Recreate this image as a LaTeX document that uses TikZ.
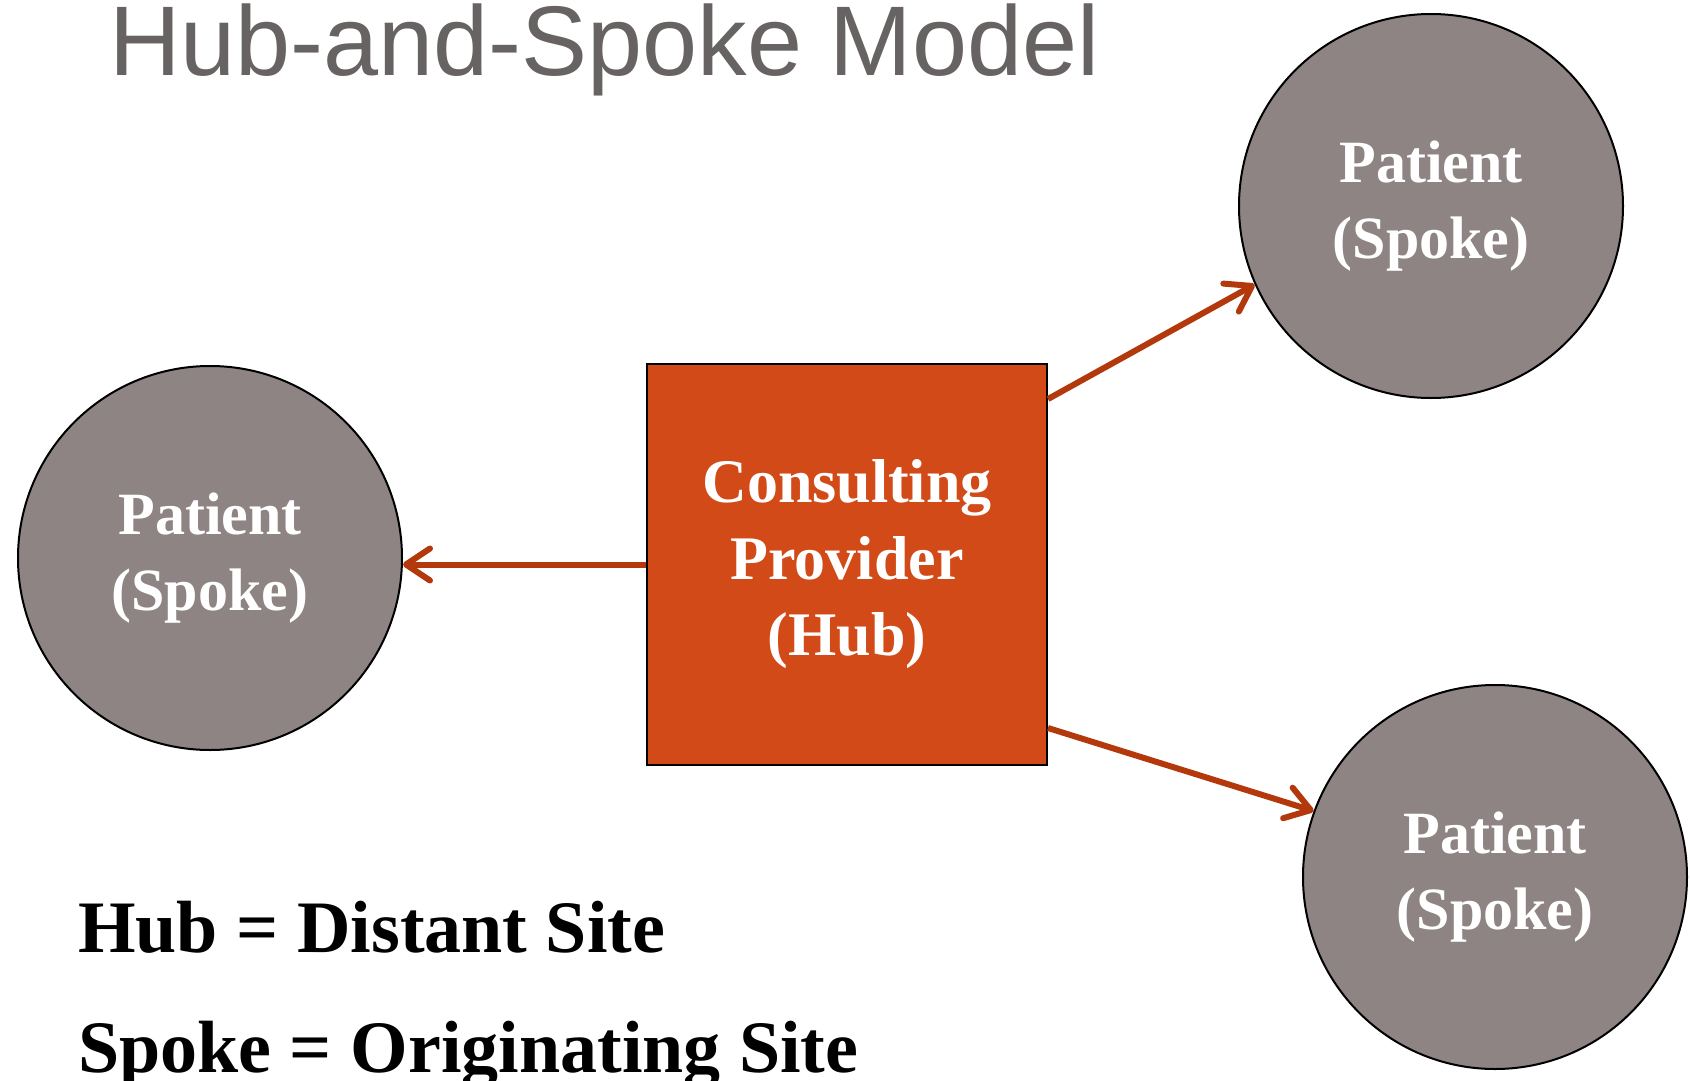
\documentclass[tikz,border=0pt]{standalone}
\usepackage{fontspec}
\setmainfont{Liberation Serif}
\newfontfamily\titlefont{Liberation Sans}
\usetikzlibrary{arrows.meta,positioning,calc}
\definecolor{hubfill}{HTML}{D14A17}
\definecolor{spokefill}{HTML}{8F8484}
\definecolor{linkred}{HTML}{B3380B}
\definecolor{titlegray}{HTML}{666362}
\begin{document}
\begin{tikzpicture}[x=1pt,y=-1pt,
 spoke/.style={circle,draw=black,line width=2pt,fill=spokefill,minimum size=384pt,inner sep=0pt,
  align=center,text=white,font=\bfseries\fontsize{60}{76.5}\selectfont},
 hubbox/.style={rectangle,draw=black,line width=2pt,fill=hubfill,minimum width=400pt,minimum height=401pt,
  inner sep=0pt,align=center,text=white,font=\bfseries\fontsize{62}{76.5}\selectfont},
 link/.style={draw=linkred,line width=6pt,-{Straight Barb[length=24pt,width=32pt,round]}},
 note/.style={anchor=base west,inner sep=0pt,font=\bfseries\fontsize{74}{86}\selectfont}]
\useasboundingbox (0,0) rectangle (1690,1081);
\node[anchor=base west,inner sep=0pt,text=titlegray,font=\titlefont\fontsize{99}{110}\selectfont] (title) at (109,76) {Hub-and-Spoke Model};
\node[hubbox] (hub) at (847,564.5) {Consulting\\Provider\\(Hub)};
\node[spoke] (spokeL) at (210,558) {Patient\\(Spoke)};
\node[spoke] (spokeTR) at (1431,206) {Patient\\(Spoke)};
\node[spoke] (spokeBR) at (1495,877) {Patient\\(Spoke)};
\draw[link] (hub.west) -- (hub.west -| spokeL.east);
\draw[link] ([yshift=-36pt]hub.north east) -- (spokeTR.204);
\draw[link] ([yshift=38pt]hub.south east) -- (spokeBR.160);
\node[note] (hubnote) at (78,952) {Hub = Distant Site};
\node[note] (spokenote) at (78,1072) {Spoke = Originating Site};
\end{tikzpicture}
\end{document}
